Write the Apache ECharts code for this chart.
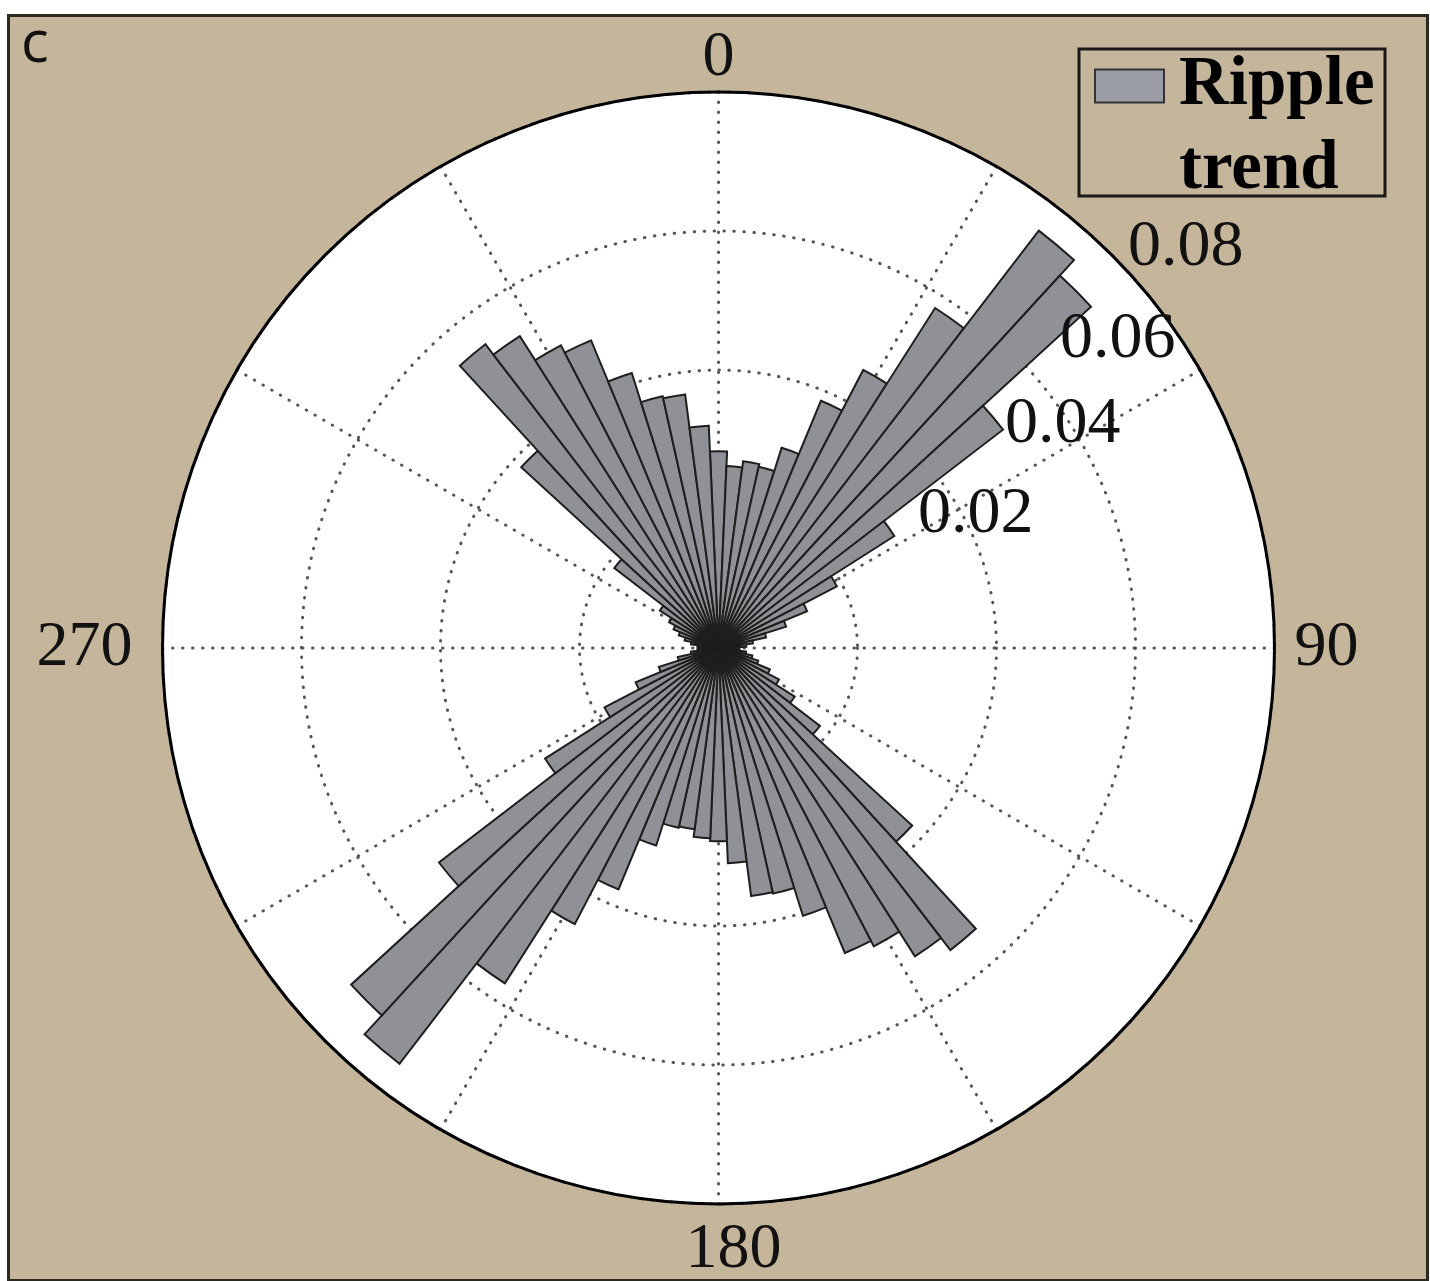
<!DOCTYPE html>
<html><head><meta charset="utf-8">
<script src="https://cdn.jsdelivr.net/npm/echarts@6/dist/echarts.min.js"></script>
<style>
html,body{margin:0;padding:0;background:#fff;}
#frame{position:absolute;left:7px;top:14px;width:1416px;height:1262px;background:#c4b59b;border:3px solid #2a2a22;box-sizing:content-box;}
#disc{position:absolute;left:162.5px;top:92px;width:1112px;height:1112px;border-radius:50%;background:#fff;}
#chart{position:absolute;left:0;top:0;width:1430px;height:1281px;}
</style></head><body>
<div id="frame"></div><div id="disc"></div><div id="chart"></div>
<script>
// Bin centres (degrees, clockwise from north), 5-degree bins
const binCenters = [0,5,10,15,20,25,30,35,40,45,50,55,60,65,70,75,80,85,90,95,100,105,110,115,
  120,125,130,135,140,145,150,155,160,165,170,175,180,185,190,195,200,205,210,215,220,225,230,235,
  240,245,250,255,260,265,270,275,280,285,290,295,300,305,310,315,320,325,330,335,340,345,350,355];
// Relative frequency of ripple trend per bin
const rippleTrend = [
  0.0283,0.0262,0.0271,0.0267,0.0302,0.0385,0.0451,0.0580,0.0757,0.0727,0.0516,0.0300,
  0.0192,0.0138,0.0102,0.0070,0.0050,0.0040,0.0030,0.0030,0.0040,0.0050,0.0060,0.0080,
  0.0098,0.0130,0.0184,0.0378,0.0548,0.0526,0.0484,0.0475,0.0404,0.0362,0.0360,0.0310,
  0.0278,0.0274,0.0263,0.0265,0.0298,0.0376,0.0448,0.0572,0.0754,0.0717,0.0507,0.0296,
  0.0185,0.0129,0.0090,0.0060,0.0040,0.0030,0.0030,0.0030,0.0040,0.0050,0.0060,0.0070,
  0.0080,0.0100,0.0189,0.0385,0.0551,0.0532,0.0491,0.0479,0.0415,0.0371,0.0368,0.0320];
const angleTickLabels = ['0','90','180','270'];
const radialTickLabels = ['0.02','0.04','0.06','0.08'];
const radialMax = 0.08;
const seriesName = 'Ripple trend';

const chart = echarts.init(document.getElementById('chart'), null, {renderer:'canvas'});
const CENTER = [718.5, 648];
const R = 556;
const serif = 'Liberation Serif, Times New Roman, serif';
const dotted = {type:[0.5,9.5], color:'#555', width:3, cap:'round'};

// radial label placement (as in the figure)
const radialLabelPos = [[918,515],[1005,425],[1060,340],[1128,248]];
const angleLabelKey = {'0':'n','90':'e','180':'s','270':'w'};

const option = {
  animation:false,
  backgroundColor:'transparent',
  polar:[
    {center:CENTER, radius:R},
    {center:CENTER, radius:R}
  ],
  angleAxis:[
    {polarIndex:0, type:'category', data:binCenters, startAngle:92.5, clockwise:true,
     boundaryGap:true, axisLine:{show:false}, axisTick:{show:false}, axisLabel:{show:false}, splitLine:{show:false}, z:5},
    {polarIndex:1, type:'value', min:0, max:360, interval:30, startAngle:90, clockwise:true,
     axisLine:{show:true, lineStyle:{color:'#000', width:3}},
     axisTick:{show:false},
     splitLine:{show:true, lineStyle:dotted},
     axisLabel:{show:true, margin:2, fontFamily:serif, fontSize:64, color:'#111',
       formatter:function(v){ const s=String(v); return (v<360 && angleTickLabels.indexOf(s)>=0)? '{'+angleLabelKey[s]+'|'+s+'}' : ''; },
       rich:{
         n:{fontFamily:serif, fontSize:64, color:'#111', padding:[0,0,0,0]},
         e:{fontFamily:serif, fontSize:64, color:'#111', padding:[0,0,0,18]},
         s:{fontFamily:serif, fontSize:64, color:'#111', padding:[12,0,0,30]},
         w:{fontFamily:serif, fontSize:64, color:'#111', padding:[0,28,0,0]}
       }},
     z:0}
  ],
  radiusAxis:[
    {polarIndex:0, type:'value', min:0, max:radialMax, axisLine:{show:false}, axisTick:{show:false}, axisLabel:{show:false}, splitLine:{show:false}},
    {polarIndex:1, type:'value', min:0, max:radialMax, interval:0.02, axisLine:{show:false}, axisTick:{show:false}, axisLabel:{show:false},
     splitLine:{show:true, lineStyle:dotted}, z:0}
  ],
  legend:{
    left:1094, bottom:1069, padding:0, itemWidth:69, itemHeight:33, icon:'rect',
    data:[seriesName],
    formatter:function(){ return ' \nRipple\ntrend'; },
    itemStyle:{color:'#9a9ca6', borderColor:'#333', borderWidth:2},
    textStyle:{fontFamily:serif, fontWeight:'bold', fontSize:69, lineHeight:84, color:'#000', padding:[0,0,0,10]}
  },
  series:[{
    name:seriesName, type:'bar', coordinateSystem:'polar', polarIndex:0,
    data:rippleTrend, barCategoryGap:'0%', barGap:'0%',
    itemStyle:{color:'#8f9196', borderColor:'#1e1e1e', borderWidth:2},
    z:3
  }],
  graphic:[
    {type:'text', left:21, top:16, style:{text:'c', font:'58px "Open Sans", sans-serif', fill:'#111'}},
    {type:'rect', shape:{x:1079, y:49, width:306, height:147}, style:{fill:'none', stroke:'#1a1a1a', lineWidth:3}, z:100},
  ].concat(radialTickLabels.map(function(t,i){
    return {type:'text', x:radialLabelPos[i][0], y:radialLabelPos[i][1], z:100,
      style:{text:t, font:'66px ' + serif, fill:'#111', verticalAlign:'middle'}};
  }))
};
chart.setOption(option);
</script>
</body></html>
